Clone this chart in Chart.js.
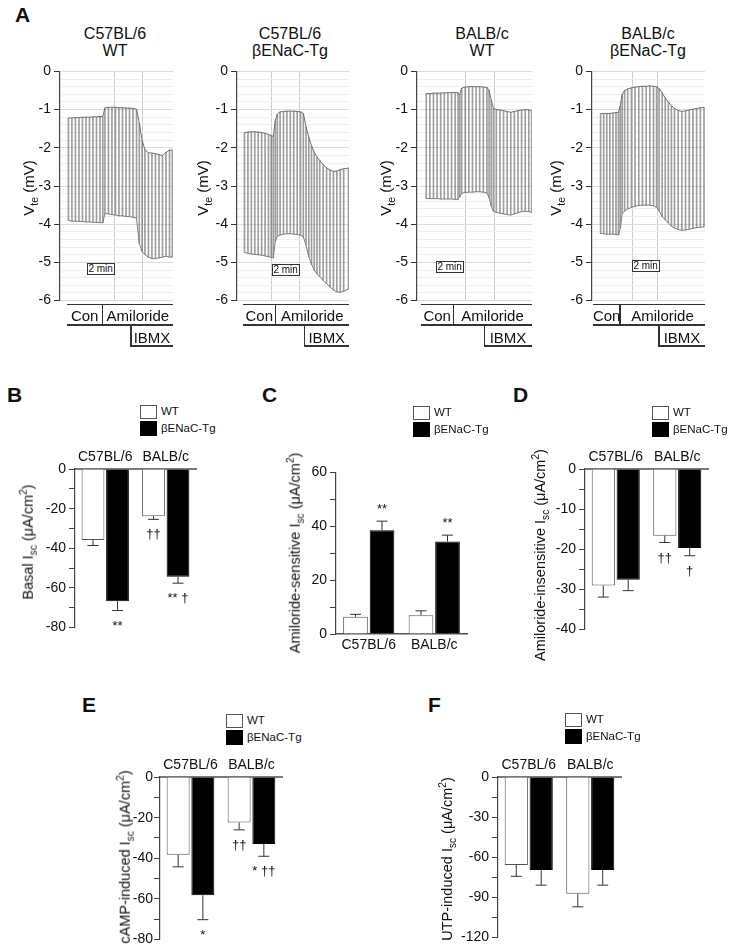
<!DOCTYPE html>
<html>
<head>
<meta charset="utf-8">
<script src="https://cdn.jsdelivr.net/npm/chart.js@4.4.1/dist/chart.umd.min.js"></script>
<style>
  body { margin: 0; background: #fff; }
  #fig { position: relative; width: 730px; height: 950px; overflow: hidden;
         font-family: "Liberation Sans", Arial, sans-serif; color: #111; }
  #fig canvas { position: absolute; }
  .t { position: absolute; white-space: nowrap; }
  .rot { position: absolute; white-space: nowrap; line-height: 1; font-size: 14px;
         transform: translate(-50%, -50%) rotate(-90deg); }
  .ln { position: absolute; background: #333; }
  .letter { position: absolute; font-weight: bold; font-size: 21px; line-height: 21px; }
  sub, sup { font-size: 70%; line-height: 0; }
</style>
</head>
<body>
<div id="fig"></div>
<script>
// ---- data ----
const groups = ['C57BL/6', 'BALB/c'];
const seriesNames = ['WT', 'βENaC-Tg'];

// panel A: transepithelial voltage traces (upper / lower envelope of the pulses, mV; time in min)
const trace1Time  = [0.7, 0.95, 1.2, 1.45, 1.7, 1.95, 2.2, 2.45, 2.7, 2.95, 3.15, 3.3, 3.55, 3.8, 4.05, 4.3, 4.55, 4.8, 5.05, 5.3, 5.55, 5.75, 5.95, 6.15, 6.4, 6.65, 6.9, 7.15, 7.4, 7.65, 7.9, 8.1];
const trace1Upper = [-1.22, -1.22, -1.21, -1.21, -1.2, -1.2, -1.2, -1.19, -1.19, -1.18, -1.18, -0.96, -0.94, -0.94, -0.94, -0.95, -0.95, -0.96, -0.96, -0.97, -0.99, -1.35, -1.8, -2.05, -2.13, -2.14, -2.15, -2.18, -2.2, -2.12, -2.06, -2.06];
const trace1Lower = [-3.9, -3.92, -3.92, -3.93, -3.93, -3.94, -3.94, -3.95, -3.95, -3.96, -3.96, -3.72, -3.73, -3.75, -3.76, -3.78, -3.78, -3.8, -3.8, -3.82, -3.84, -4.5, -4.72, -4.8, -4.86, -4.9, -4.9, -4.88, -4.86, -4.84, -4.86, -4.86];

const trace2Time  = [0.0, 0.25, 0.5, 0.75, 1.0, 1.25, 1.5, 1.75, 1.95, 2.1, 2.25, 2.4, 2.6, 2.85, 3.1, 3.35, 3.6, 3.85, 4.1, 4.3, 4.5, 4.7, 4.9, 5.1, 5.3, 5.5, 5.75, 6.0, 6.25, 6.5, 6.75, 7.0, 7.25, 7.6];
const trace2Upper = [-1.6, -1.59, -1.58, -1.58, -1.59, -1.6, -1.62, -1.65, -1.68, -1.7, -1.3, -1.12, -1.06, -1.05, -1.04, -1.04, -1.04, -1.05, -1.06, -1.1, -1.45, -1.72, -1.95, -2.12, -2.24, -2.33, -2.44, -2.53, -2.58, -2.62, -2.61, -2.57, -2.55, -2.53];
const trace2Lower = [-4.74, -4.76, -4.78, -4.79, -4.8, -4.81, -4.83, -4.85, -4.87, -4.88, -4.45, -4.32, -4.28, -4.26, -4.25, -4.25, -4.26, -4.27, -4.29, -4.33, -4.55, -4.85, -5.05, -5.2, -5.3, -5.37, -5.47, -5.56, -5.64, -5.72, -5.77, -5.78, -5.75, -5.7];

const trace3Time  = [1.3, 1.55, 1.8, 2.05, 2.3, 2.55, 2.8, 3.05, 3.3, 3.5, 3.62, 3.75, 4.0, 4.25, 4.5, 4.75, 5.0, 5.25, 5.5, 5.65, 5.8, 5.95, 6.15, 6.4, 6.65, 6.9, 7.15, 7.4, 7.65, 7.9, 8.15, 8.4, 8.6];
const trace3Upper = [-0.58, -0.58, -0.57, -0.57, -0.57, -0.56, -0.56, -0.55, -0.55, -0.56, -0.62, -0.44, -0.41, -0.4, -0.4, -0.4, -0.4, -0.41, -0.42, -0.5, -0.75, -0.97, -1.0, -1.01, -1.03, -1.05, -1.07, -1.05, -1.03, -1.01, -1.0, -1.01, -1.03];
const trace3Lower = [-3.33, -3.33, -3.33, -3.33, -3.34, -3.34, -3.34, -3.34, -3.35, -3.35, -3.28, -3.19, -3.17, -3.16, -3.16, -3.15, -3.15, -3.16, -3.18, -3.3, -3.52, -3.66, -3.69, -3.71, -3.73, -3.75, -3.76, -3.73, -3.7, -3.67, -3.66, -3.67, -3.69];

const trace4Time  = [1.4, 1.65, 1.9, 2.15, 2.4, 2.65, 2.85, 3.0, 3.15, 3.35, 3.6, 3.9, 4.2, 4.5, 4.8, 5.1, 5.4, 5.7, 5.95, 6.15, 6.4, 6.65, 6.9, 7.15, 7.4, 7.7, 8.0, 8.3, 8.6, 8.9, 9.2, 9.5, 9.8];
const trace4Upper = [-1.11, -1.1, -1.1, -1.1, -1.09, -1.08, -1.07, -0.9, -0.6, -0.5, -0.46, -0.43, -0.41, -0.4, -0.39, -0.39, -0.38, -0.39, -0.4, -0.45, -0.56, -0.7, -0.8, -0.9, -0.97, -1.02, -1.05, -1.03, -1.01, -0.99, -0.97, -0.95, -0.94];
const trace4Lower = [-4.24, -4.25, -4.26, -4.26, -4.26, -4.27, -4.28, -4.1, -3.72, -3.66, -3.6, -3.56, -3.53, -3.51, -3.5, -3.5, -3.5, -3.52, -3.56, -3.65, -3.8, -3.88, -3.97, -4.05, -4.1, -4.14, -4.16, -4.15, -4.13, -4.11, -4.09, -4.08, -4.07];

// panels B-F: mean and SEM (µA/cm²) per strain, significance marks
const basalWT = [-35.8, -23.8], basalWTsem = [2.8, 1.6], basalWTsig = ['', '††'];
const basalTg = [-66.7, -54.3], basalTgsem = [4.7, 3.3], basalTgsig = ['**', '** †'];

const amiSensWT = [6.4, 7.0],  amiSensWTsem = [0.9, 1.6], amiSensWTsig = ['', ''];
const amiSensTg = [38.5, 34.3], amiSensTgsem = [3.4, 2.4], amiSensTgsig = ['**', '**'];

const amiInsWT = [-29.0, -16.6], amiInsWTsem = [2.9, 1.7], amiInsWTsig = ['', '††'];
const amiInsTg = [-27.6, -19.7], amiInsTgsem = [2.7, 1.9], amiInsTgsig = ['', '†'];

const campWT = [-38.2, -22.4], campWTsem = [6.0, 3.6], campWTsig = ['', '††'];
const campTg = [-58.2, -33.0], campTgsem = [12.0, 6.0], campTgsig = ['*', '* ††'];

const utpWT = [-65.7, -87.2], utpWTsem = [8.5, 9.8], utpWTsig = ['', ''];
const utpTg = [-69.4, -69.4], utpTgsem = [11.4, 11.4], utpTgsig = ['', ''];

// ---- helpers ----
Chart.defaults.font.family = '"Liberation Sans", Arial, sans-serif';
Chart.defaults.color = '#111';

const fig = document.getElementById('fig');

function addCanvas(left, top, w, h) {
  const c = document.createElement('canvas');
  c.width = Math.round(w); c.height = Math.round(h);
  c.style.left = Math.round(left) + 'px';
  c.style.top = Math.round(top) + 'px';
  c.style.width = Math.round(w) + 'px';
  c.style.height = Math.round(h) + 'px';
  fig.appendChild(c);
  return c;
}

function addEl(cls, html, css) {
  const d = document.createElement('div');
  d.className = cls;
  d.innerHTML = html;
  Object.assign(d.style, css);
  fig.appendChild(d);
  return d;
}

function hline(x0, x1, y) { addEl('ln', '', { left: x0 + 'px', top: (y - 0.75) + 'px', width: (x1 - x0) + 'px', height: '1.5px' }); }
function vline(x, y0, y1) { addEl('ln', '', { left: (x - 0.75) + 'px', top: y0 + 'px', width: '1.5px', height: (y1 - y0) + 'px' }); }

function centered(text, cx, cy, size) {
  return addEl('t', text, { left: cx + 'px', top: cy + 'px', fontSize: size + 'px', lineHeight: '1',
    transform: 'translate(-50%, -50%)' });
}

const isInt = v => Math.abs(v - Math.round(v)) < 1e-6;
const isEven = v => Math.abs(v / 2 - Math.round(v / 2)) < 1e-6;

// panel letters
[['A', 15, 4], ['B', 7, 384], ['C', 262, 384], ['D', 513, 384], ['E', 82, 694], ['F', 428, 694]]
  .forEach(([l, x, y]) => addEl('letter', l, { left: x + 'px', top: y + 'px' }));

// ---- panel A ----
function traceChart(axisX, right, times, upper, lower, xmin, xmax) {
  const left = Math.round(axisX) - 40;
  const c = addCanvas(left, 60, Math.round(right) - left + 2, 252);
  new Chart(c, {
    data: {
      datasets: [
        { type: 'line', data: times.map((t, i) => ({ x: t, y: upper[i] })),
          borderColor: '#707070', borderWidth: 1, pointRadius: 0, tension: 0, order: 0 },
        { type: 'line', data: times.map((t, i) => ({ x: t, y: lower[i] })),
          borderColor: '#7c7c7c', borderWidth: 1, pointRadius: 0, tension: 0, order: 0 },
        { type: 'bar', data: times.map((t, i) => ({ x: t, y: [lower[i], upper[i]] })),
          backgroundColor: 'rgba(95,95,95,0.6)', barThickness: 1, order: 1 }
      ]
    },
    options: {
      responsive: false, animation: false,
      layout: { padding: { top: 10, right: 2, bottom: 8, left: 0 } },
      plugins: { legend: { display: false }, tooltip: { enabled: false } },
      scales: {
        x: {
          type: 'linear', min: xmin, max: xmax, offset: false,
          ticks: { display: false, stepSize: 2 },
          grid: { offset: false, drawTicks: false,
                  color: ctx => (ctx.tick && isEven(ctx.tick.value)) ? '#cdcdcd' : 'rgba(0,0,0,0)' },
          border: { display: false },
          afterFit: s => { s.height = 0; }
        },
        y: {
          min: -6, max: 0,
          ticks: { stepSize: 0.2, autoSkip: false, padding: 3, font: { size: 14 }, color: '#111',
                   callback: v => isInt(v) ? String(Math.round(v)) : '' },
          grid: { tickLength: 6,
                  color: ctx => (ctx.tick && isInt(ctx.tick.value)) ? '#dcdcdc' : '#eeeeee',
                  tickColor: ctx => (ctx.tick && isInt(ctx.tick.value)) ? '#333' : 'rgba(0,0,0,0)' },
          border: { display: true, color: '#444', width: 1.2 },
          afterFit: s => { s.width = 40; }
        }
      }
    }
  });
}

traceChart(60, 173, trace1Time, trace1Upper, trace1Lower, 0.1, 8.15);
traceChart(237, 349, trace2Time, trace2Upper, trace2Lower, -0.55, 7.64);
traceChart(417, 532, trace3Time, trace3Upper, trace3Lower, 0.66, 8.62);
traceChart(592, 705, trace4Time, trace4Upper, trace4Lower, 0.7, 9.88);

// trace titles and axis labels
[[115, 'C57BL/6', 'WT'], [290, 'C57BL/6', 'βENaC-Tg'], [482, 'BALB/c', 'WT'], [648, 'BALB/c', 'βENaC-Tg']]
  .forEach(([cx, a, b]) => {
    addEl('t', a + '<br>' + b, { left: cx + 'px', top: '24.5px', fontSize: '16px', lineHeight: '17px',
      textAlign: 'center', transform: 'translateX(-50%)' });
  });
[28, 202, 385, 555].forEach(cx => {
  addEl('rot', 'V<sub>te</sub> (mV)', { left: cx + 'px', top: '188px', fontSize: '15px' });
});

// treatment brackets
function bracket(x0, sep, ibmx, x1) {
  hline(x0, x1, 304.3);
  hline(x0, x1, 325);
  vline(sep, 304.3, 325);
  vline(ibmx, 325, 346.5);
  hline(ibmx, x1, 346);
  centered('Con', (x0 + sep) / 2, 315, 15);
  centered('Amiloride', (sep + x1) / 2, 315, 15);
  centered('IBMX', (ibmx + x1) / 2, 336.5, 15);
}
bracket(66.7, 102.7, 131, 173);
bracket(243.3, 275.3, 304.3, 349.3);
bracket(421, 453.3, 484.3, 531.7);
bracket(593.3, 620, 659, 705);

// 2 min scale boxes
[[86.7, 263.3], [271.7, 264.3], [435.7, 260.7], [631.7, 260]].forEach(([x, y]) => {
  addEl('t', '2 min', { left: x + 'px', top: y + 'px', width: '26px', height: '10px', fontSize: '10px',
    lineHeight: '10px', textAlign: 'center', border: '1px solid #333', background: '#fff' });
});

// ---- panels B-F ----
function makeErrPlugin(sems, sigs) {
  return {
    id: 'errbars',
    afterDatasetsDraw(chart) {
      const ctx = chart.ctx, ys = chart.scales.y;
      sems.forEach((sem, di) => {
        const meta = chart.getDatasetMeta(di);
        meta.data.forEach((bar, i) => {
          const v = chart.data.datasets[di].data[i];
          const y1 = ys.getPixelForValue(v + Math.sign(v) * sem[i]);
          ctx.save();
          ctx.strokeStyle = '#333'; ctx.lineWidth = 1;
          ctx.beginPath();
          ctx.moveTo(bar.x, bar.y); ctx.lineTo(bar.x, y1);
          ctx.moveTo(bar.x - 5.5, y1); ctx.lineTo(bar.x + 5.5, y1);
          ctx.stroke();
          const s = sigs[di][i];
          if (s) {
            ctx.font = '13px "Liberation Sans", Arial, sans-serif';
            ctx.fillStyle = '#111'; ctx.textAlign = 'center';
            if (v < 0) { ctx.textBaseline = 'top'; ctx.fillText(s, bar.x, y1 + 9); }
            else { ctx.textBaseline = 'alphabetic'; ctx.fillText(s, bar.x, y1 - 8); }
          }
          ctx.restore();
        });
      });
    }
  };
}

function barChart(o) {
  const left = Math.round(o.axisX) - 45;
  const xTop = o.xPos === 'top';
  const cTop = xTop ? Math.round(o.top) - 25 : Math.round(o.top) - 8;
  const h = Math.round(o.bottom) - Math.round(o.top) + 33;
  const c = addCanvas(left, cTop, Math.round(o.right) - left + 5, h);
  new Chart(c, {
    type: 'bar',
    data: {
      labels: groups,
      datasets: [
        { label: seriesNames[0], data: o.wt, backgroundColor: '#fff', borderColor: '#555', borderWidth: 1 },
        { label: seriesNames[1], data: o.tg, backgroundColor: '#000', borderColor: '#000', borderWidth: 1 }
      ]
    },
    options: {
      responsive: false, animation: false,
      categoryPercentage: 0.81, barPercentage: 0.93,
      layout: { padding: { top: xTop ? 0 : 8, right: 5, bottom: xTop ? 8 : 0, left: 0 } },
      plugins: { legend: { display: false }, tooltip: { enabled: false } },
      scales: {
        x: {
          position: o.xPos,
          grid: { drawOnChartArea: false, drawTicks: false },
          border: { display: true, color: xTop ? '#7a7a7a' : '#555', width: xTop ? 2 : 1.5 },
          ticks: { font: { size: 14 }, color: '#111', padding: 3 },
          afterFit: s => { s.height = 25; }
        },
        y: {
          min: o.min, max: o.max,
          ticks: { stepSize: o.step, autoSkip: false, font: { size: 14 }, color: '#111', padding: o.tickPad || 3,
                   callback: v => Math.abs(v % o.labelStep) < 1e-6 ? String(v) : '' },
          grid: { drawOnChartArea: false, tickLength: 6, color: '#444' },
          border: { display: true, color: '#444', width: 1.2 },
          afterFit: s => { s.width = 45; }
        }
      }
    },
    plugins: [makeErrPlugin([o.wtSem, o.tgSem], [o.wtSig, o.tgSig])]
  });
}

barChart({ axisX: 75, top: 469, bottom: 631, right: 196, xPos: 'top', min: -80, max: 0, step: 10, labelStep: 20,
  wt: basalWT, tg: basalTg, wtSem: basalWTsem, tgSem: basalTgsem, wtSig: basalWTsig, tgSig: basalTgsig });
barChart({ axisX: 336, top: 469, bottom: 634, right: 467, xPos: 'bottom', min: 0, max: 60, step: 10, labelStep: 20,
  wt: amiSensWT, tg: amiSensTg, wtSem: amiSensWTsem, tgSem: amiSensTgsem, wtSig: amiSensWTsig, tgSig: amiSensTgsig });
barChart({ axisX: 585, top: 469, bottom: 633, right: 708, xPos: 'top', min: -40, max: 0, step: 5, labelStep: 10,
  wt: amiInsWT, tg: amiInsTg, wtSem: amiInsWTsem, tgSem: amiInsTgsem, wtSig: amiInsWTsig, tgSig: amiInsTgsig });
barChart({ axisX: 160, top: 777, bottom: 941, right: 282, xPos: 'top', min: -80, max: 0, step: 10, labelStep: 20,
  tickPad: 1,
  wt: campWT, tg: campTg, wtSem: campWTsem, tgSem: campTgsem, wtSig: campWTsig, tgSig: campTgsig });
barChart({ axisX: 498, top: 777, bottom: 941, right: 621, xPos: 'top', min: -120, max: 0, step: 15, labelStep: 30,
  wt: utpWT, tg: utpTg, wtSem: utpWTsem, tgSem: utpTgsem, wtSig: utpWTsig, tgSig: utpTgsig });

// y-axis titles
const unit = ' I<sub>sc</sub> (μA/cm<sup>2</sup>)';
[['Basal', 28, 542], ['Amiloride-sensitive', 295, 553], ['Amiloride-insensitive', 540, 555],
 ['cAMP-induced', 125, 857], ['UTP-induced', 447, 859]]
  .forEach(([name, cx, cy]) => addEl('rot', name + unit, { left: cx + 'px', top: cy + 'px', fontSize: '14.5px' }));

// legends
function legend(x, y) {
  addEl('t', '', { left: x + 'px', top: y + 'px', width: '15px', height: '12px', border: '1px solid #555', background: '#fff' });
  addEl('t', '', { left: x + 'px', top: (y + 16) + 'px', width: '17px', height: '15px', background: '#000' });
  centered(seriesNames[0], x + 21, y + 7, 11.5).style.transform = 'translateY(-50%)';
  centered(seriesNames[1], x + 21, y + 23.5, 11.5).style.transform = 'translateY(-50%)';
}
legend(140, 405);
legend(413, 406);
legend(652, 406);
legend(226, 714);
legend(565, 713);
</script>
</body>
</html>
